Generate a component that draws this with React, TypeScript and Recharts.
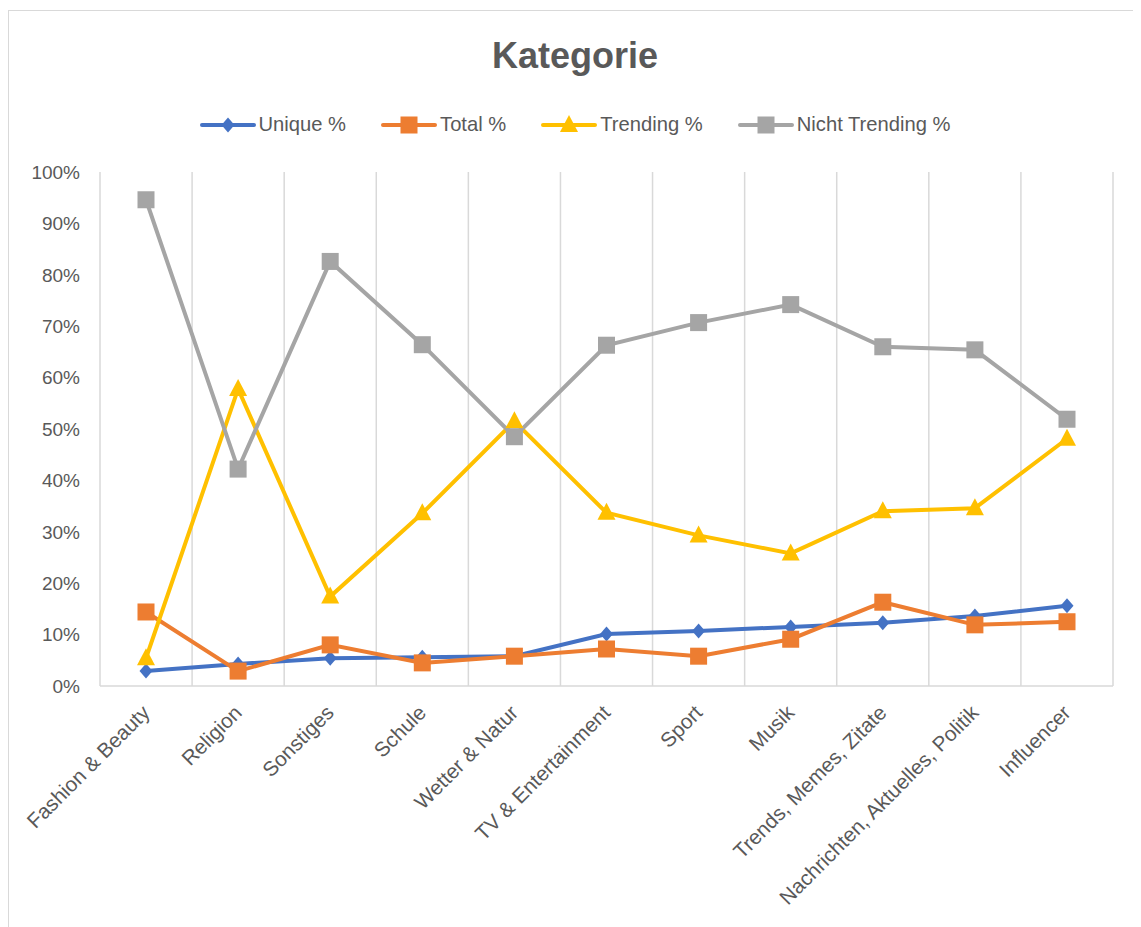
import React from 'react';
import { LineChart, Line, XAxis, YAxis, CartesianGrid } from 'recharts';

const categories = [
  'Fashion & Beauty',
  'Religion',
  'Sonstiges',
  'Schule',
  'Wetter & Natur',
  'TV & Entertainment',
  'Sport',
  'Musik',
  'Trends, Memes, Zitate',
  'Nachrichten, Aktuelles, Politik',
  'Influencer',
];
const uniquePct = [2.9, 4.3, 5.4, 5.6, 5.8, 10.1, 10.7, 11.5, 12.3, 13.6, 15.6];
const totalPct = [14.4, 2.9, 8.0, 4.5, 5.8, 7.2, 5.8, 9.1, 16.3, 11.9, 12.5];
const trendingPct = [5.4, 57.8, 17.4, 33.6, 51.5, 33.7, 29.3, 25.8, 34.0, 34.6, 48.1];
const nichtTrendingPct = [94.6, 42.2, 82.6, 66.4, 48.5, 66.3, 70.7, 74.2, 66.0, 65.4, 51.9];
const yTicks = [0, 10, 20, 30, 40, 50, 60, 70, 80, 90, 100];

const data = categories.map((name, i) => ({
  name,
  unique: uniquePct[i],
  total: totalPct[i],
  trending: trendingPct[i],
  nicht: nichtTrendingPct[i],
}));

const FONT = '"Liberation Sans", Arial, sans-serif';
const TEXT = '#595959';
const GRID = '#d9d9d9';

type Shape = 'diamond' | 'square' | 'triangle';

const series: { key: string; label: string; color: string; shape: Shape }[] = [
  { key: 'unique', label: 'Unique %', color: '#4472C4', shape: 'diamond' },
  { key: 'total', label: 'Total %', color: '#ED7D31', shape: 'square' },
  { key: 'trending', label: 'Trending %', color: '#FFC000', shape: 'triangle' },
  { key: 'nicht', label: 'Nicht Trending %', color: '#A5A5A5', shape: 'square' },
];

const marker = (shape: Shape, cx: number, cy: number, color: string, key?: any) => {
  if (shape === 'diamond') {
    return <path key={key} d={`M${cx},${cy - 7.5}L${cx + 6.5},${cy}L${cx},${cy + 7.5}L${cx - 6.5},${cy}Z`} fill={color} />;
  }
  if (shape === 'triangle') {
    return <path key={key} d={`M${cx},${cy - 10}L${cx + 9},${cy + 7}L${cx - 9},${cy + 7}Z`} fill={color} />;
  }
  return <rect key={key} x={cx - 8.5} y={cy - 8.5} width={17} height={17} fill={color} />;
};

const XTick = (props: any) => {
  const { x, y, payload } = props;
  const ax = x + 5;
  const ay = y + 28;
  return (
    <text
      x={ax}
      y={ay}
      transform={`rotate(-45, ${ax}, ${ay})`}
      textAnchor="end"
      fill={TEXT}
      fontSize={20.7}
      fontFamily={FONT}
    >
      {payload.value}
    </text>
  );
};

const LegendIcon = ({ color, shape }: { color: string; shape: Shape }) => (
  <svg width={56} height={20} style={{ display: 'block' }}>
    <line x1={2} y1={10} x2={54} y2={10} stroke={color} strokeWidth={4} strokeLinecap="round" />
    {marker(shape, 28, 10, color)}
  </svg>
);

export default function App() {
  return (
    <div
      style={{
        position: 'relative',
        marginTop: 2,
        width: 1133,
        height: 917,
        borderTop: `1px solid ${GRID}`,
        borderLeft: `1px solid ${GRID}`,
        boxSizing: 'border-box',
        background: '#fff',
        fontFamily: FONT,
      }}
    >
      <div
        style={{
          position: 'absolute',
          top: 24,
          left: 0,
          width: '100%',
          textAlign: 'center',
          fontSize: 36,
          fontWeight: 'bold',
          color: TEXT,
        }}
      >
        Kategorie
      </div>
      <div
        style={{
          position: 'absolute',
          top: 102,
          left: 0,
          width: '100%',
          display: 'flex',
          justifyContent: 'center',
          gap: 35,
          color: TEXT,
          fontSize: 20.2,
        }}
      >
        {series.map((s) => (
          <div key={s.key} style={{ display: 'flex', alignItems: 'center' }}>
            <LegendIcon color={s.color} shape={s.shape} />
            <span style={{ marginLeft: 3 }}>{s.label}</span>
          </div>
        ))}
      </div>
      <div style={{ position: 'absolute', top: 0, left: 0 }}>
        <LineChart width={1132} height={916} data={data} margin={{ top: 161, right: 28, bottom: 11, left: 11 }}>
          <CartesianGrid
            horizontal={false}
            stroke={GRID}
            strokeWidth={1.5}
            verticalCoordinatesGenerator={({ offset }: any) =>
              Array.from({ length: categories.length + 1 }, (_, i) => offset.left + (i * offset.width) / categories.length)
            }
          />
          <XAxis
            dataKey="name"
            interval={0}
            height={230}
            tickLine={false}
            tickSize={0}
            tickMargin={0}
            axisLine={{ stroke: GRID, strokeWidth: 1.5 }}
            padding={{ left: 46, right: 46 }}
            tick={<XTick />}
          />
          <YAxis
            width={80}
            domain={[0, 100]}
            ticks={yTicks}
            tickFormatter={(v: number) => `${v}%`}
            axisLine={false}
            tickLine={false}
            tickSize={0}
            tickMargin={20}
            tick={{ fill: TEXT, fontSize: 19, fontFamily: FONT }}
          />
          {series.map((s) => (
            <Line
              key={s.key}
              dataKey={s.key}
              stroke={s.color}
              strokeWidth={4}
              isAnimationActive={false}
              dot={(p: any) => marker(s.shape, p.cx, p.cy, s.color, `${s.key}-${p.index}`)}
              activeDot={false}
            />
          ))}
        </LineChart>
      </div>
    </div>
  );
}
